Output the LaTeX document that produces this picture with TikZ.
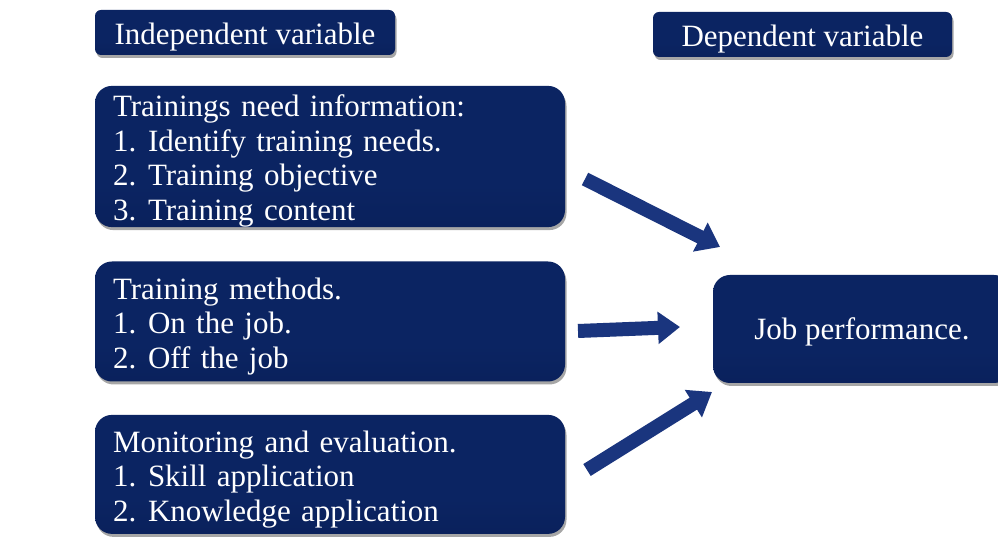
\documentclass[tikz,border=0pt]{standalone}
\usepackage{fontspec}
\setmainfont{Liberation Serif}
\usepackage{tikz}
\usetikzlibrary{arrows.meta,positioning,shadows}
\usepackage{xcolor}
\definecolor{NavyBase}{HTML}{0B2462}
\definecolor{NavyDeep}{HTML}{081C52}
\definecolor{NavyTop}{HTML}{3A5A9A}
\definecolor{ArrowBlue}{HTML}{1A357E}

\pgfdeclareverticalshading{navybox}{100bp}{color(0bp)=(NavyDeep); color(40bp)=(NavyBase); color(93bp)=(NavyBase); color(100bp)=(NavyTop)}

\newcommand{\itm}[1]{\makebox[35pt][l]{#1}}

\begin{document}
\begin{tikzpicture}[x=1pt,y=1pt,node distance=34pt,
  panel/.style={rounded corners=17pt,shading=navybox,text=white,
    drop shadow={shadow xshift=1.5pt,shadow yshift=-3pt,opacity=.35,fill=black},
    font=\fontsize{31}{34.5}\selectfont},
  factorbox/.style={panel,minimum width=470pt,text width=434pt,inner xsep=18pt,inner ysep=0pt,align=left,
    execute at begin node={\rule{0pt}{31pt}}},
  headbox/.style={panel,rounded corners=6pt,minimum width=300pt,minimum height=45pt,inner sep=0pt,
    text height=30pt,text depth=6pt},
  blockarrow/.style={line width=14pt,draw=ArrowBlue,
    -{Triangle[length=22pt,width=31pt,fill=ArrowBlue]}}]
\fill[white] (0,0) rectangle (998,556);
\clip (0,0) rectangle (998,556);
% column headings
\node[headbox] (indep) at (245,523.5) {Independent variable};
\node[headbox,minimum width=299pt] (dep) at (802.5,521.5) {Dependent variable};
% the three factors
\node[factorbox,minimum height=137pt] (needs) at (330,399.5) {Trainings need information:\\
\itm{1.}Identify training needs.\\
\itm{2.}Training objective\\
\itm{3.}Training content};
\node[factorbox,minimum height=120pt,below=of needs] (methods) {Training methods.\\
\itm{1.}On the job.\\
\itm{2.}Off the job};
\node[factorbox,minimum height=119pt,below=33pt of methods] (monitor) {Monitoring and evaluation.\\
\itm{1.}Skill application\\
\itm{2.}Knowledge application};
% outcome
\node[panel,minimum width=298pt,minimum height=108pt,inner sep=0pt,text height=28pt,text depth=6pt] (perf) at (862,227) {Job performance.};
% arrow ends
\coordinate (t1) at (585,377);
\coordinate (h1) at (720,309);
\coordinate (t2) at (578,225);
\coordinate (h2) at (680,229);
\coordinate (t3) at (587,86);
\coordinate (h3) at (712,164);
\draw[blockarrow] (t1) -- (h1);
\draw[blockarrow] (t2) -- (h2);
\draw[blockarrow] (t3) -- (h3);
\end{tikzpicture}
\end{document}
